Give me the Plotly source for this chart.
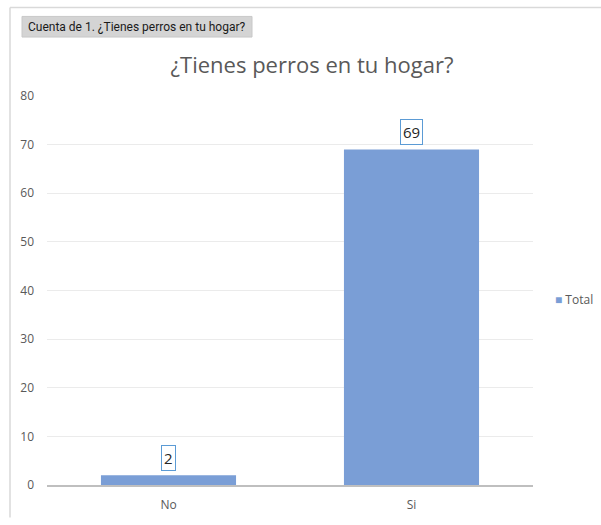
import plotly.graph_objects as go

categories = ["No", "Si"]
values = [2, 69]
series_name = "Total"
title_text = "¿Tienes perros en tu hogar?"
button_text = "Cuenta de 1. ¿Tienes perros en tu hogar?"
y_ticks = [0, 10, 20, 30, 40, 50, 60, 70, 80]

W, H = 601, 525
L, R, T, B = 47, 68, 96, 33
PW, PH = W - L - R, H - T - B

def px(x):
    return (x - L) / PW

def py(y):
    return (H - B - y) / PH

bar_color = "#7A9ED6"
gray_text = "#595959"

fig = go.Figure()
fig.add_trace(go.Bar(
    x=categories, y=values, name=series_name,
    marker=dict(color=bar_color, line=dict(width=0)),
    width=0.556, showlegend=False,
))

annotations = []
for c, v in zip(categories, values):
    annotations.append(dict(
        x=c, y=v, xref="x", yref="y", text=str(v), showarrow=False,
        yanchor="bottom", yshift=4,
        font=dict(family="Open Sans", size=15, color="#262626"),
        bgcolor="white", bordercolor="#5B9BD5", borderwidth=1, borderpad=2,
    ))

# button label
annotations.append(dict(
    x=px(26), y=py(25.5), xref="paper", yref="paper", text=button_text,
    showarrow=False, xanchor="left", yanchor="middle",
    font=dict(family="Roboto", size=12, color="#1a1a1a"),
))

# legend (manual)
annotations.append(dict(
    x=px(553), y=py(303), xref="paper", yref="paper",
    text="<span style='color:%s;font-size:12px'>■</span> %s" % (bar_color, series_name),
    showarrow=False, xanchor="left", yanchor="middle",
    font=dict(family="Open Sans", size=12, color=gray_text),
))

shapes = [
    dict(type="line", xref="paper", yref="paper", x0=px(10), x1=px(10), y0=py(6), y1=py(525),
         line=dict(color="#d9d9d9", width=1.5)),
    dict(type="line", xref="paper", yref="paper", x0=px(10), x1=px(601), y0=py(6), y1=py(6),
         line=dict(color="#d9d9d9", width=1.5)),
    dict(type="rect", xref="paper", yref="paper", x0=px(22), x1=px(252), y0=py(36), y1=py(15),
         fillcolor="#d4d4d4", line=dict(color="#c8c8c8", width=1), layer="below"),
]

fig.update_layout(
    width=W, height=H,
    margin=dict(l=L, r=R, t=T, b=B, pad=0),
    paper_bgcolor="white", plot_bgcolor="white",
    title=dict(text=title_text, x=312 / W, xref="container", xanchor="center",
               y=1 - 65 / H, yref="container", yanchor="middle",
               font=dict(family="Open Sans", size=22, color=gray_text)),
    bargap=0.444,
    xaxis=dict(showline=True, linecolor="#bfbfbf", linewidth=2, showgrid=False,
               ticks="", tickfont=dict(family="Open Sans", size=12, color=gray_text),
               ticklabelstandoff=8),
    yaxis=dict(range=[0, 80], tickvals=y_ticks, showgrid=True, gridcolor="#ebebeb",
               gridwidth=1, zeroline=False, showline=False, ticks="",
               tickfont=dict(family="Open Sans", size=12, color=gray_text),
               ticklabelstandoff=12),
    annotations=annotations,
    shapes=shapes,
)

fig.write_html("out.html")
